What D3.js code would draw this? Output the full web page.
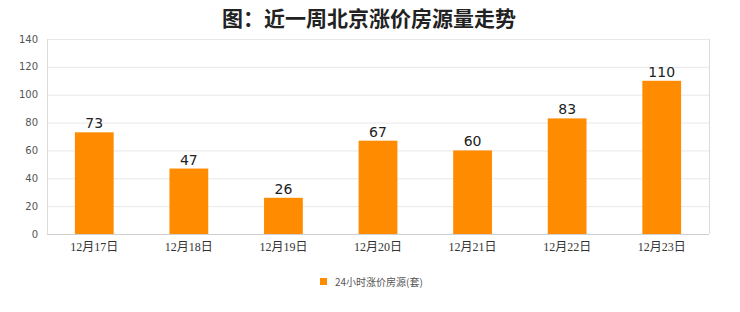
<!DOCTYPE html>
<html><head><meta charset="utf-8">
<script src="https://cdn.jsdelivr.net/npm/d3@7"></script>
<style>body{margin:0;background:#fff}svg{display:block}</style>
</head><body><svg id="c" width="740" height="312"></svg>
<script>
const categories = ["12月17日","12月18日","12月19日","12月20日","12月21日","12月22日","12月23日"];
const values = [73,47,26,67,60,83,110];
const yTicks = [0,20,40,60,80,100,120,140];
const title = "图：近一周北京涨价房源量走势";
const seriesName = "24小时涨价房源(套)";

const svg = d3.select("#c");
const m = {l:47, r:709, t:39, b:234};
const x = d3.scaleBand().domain(categories).range([m.l, m.r]).padding(0);
const y = d3.scaleLinear().domain([0,140]).range([m.b, m.t]);

// gridlines
svg.append("g").selectAll("line").data(yTicks.slice(1)).join("line")
  .attr("x1",m.l).attr("x2",m.r).attr("y1",d=>y(d)+0.5).attr("y2",d=>y(d)+0.5)
  .attr("stroke","#e8e8e8");
// frame
svg.append("line").attr("x1",m.l+0.5).attr("x2",m.l+0.5).attr("y1",m.t).attr("y2",m.b).attr("stroke","#dcdcdc");
svg.append("line").attr("x1",m.r+0.5).attr("x2",m.r+0.5).attr("y1",m.t).attr("y2",m.b).attr("stroke","#dcdcdc");
svg.append("line").attr("x1",m.l).attr("x2",m.r).attr("y1",m.b+0.5).attr("y2",m.b+0.5).attr("stroke","#cfcfcf");

// y axis labels
svg.append("g").selectAll("text").data(yTicks).join("text")
  .attr("x",38).attr("y",d=>y(d)).attr("dy","0.35em").attr("text-anchor","end")
  .attr("font-size",10).attr("font-family","DejaVu Sans").attr("fill","#555").text(d=>d);

// bars
const bw = x.bandwidth()*0.41;
svg.append("g").selectAll("rect").data(values).join("rect")
  .attr("x",(d,i)=>x(categories[i])+x.bandwidth()/2-bw/2).attr("width",bw)
  .attr("y",d=>y(d)).attr("height",d=>m.b-y(d)).attr("fill","#ff8c00");

// value labels
svg.append("g").selectAll("text").data(values).join("text")
  .attr("x",(d,i)=>x(categories[i])+x.bandwidth()/2).attr("y",d=>y(d)-4)
  .attr("text-anchor","middle").attr("font-size",14).attr("font-family","DejaVu Sans").attr("fill","#222").text(d=>d);

// x labels
svg.append("g").selectAll("text").data(categories).join("text")
  .attr("x",d=>x(d)+x.bandwidth()/2).attr("y",251)
  .attr("text-anchor","middle").attr("font-size",12).attr("font-family","Liberation Serif, Noto Sans CJK SC").attr("fill","#333").text(d=>d);

// title
svg.append("text").attr("x",369).attr("y",26).attr("text-anchor","middle")
  .attr("font-size",21).attr("font-weight","bold").attr("font-family","Noto Sans CJK SC").attr("fill","#222").text(title);

// legend
svg.append("rect").attr("x",320).attr("y",278).attr("width",7).attr("height",7).attr("fill","#ff8c00");
svg.append("text").attr("x",335).attr("y",282).attr("dy","0.35em").attr("font-size",10)
  .attr("font-family","Noto Sans CJK SC").attr("fill","#555").text(seriesName);
</script></body></html>
